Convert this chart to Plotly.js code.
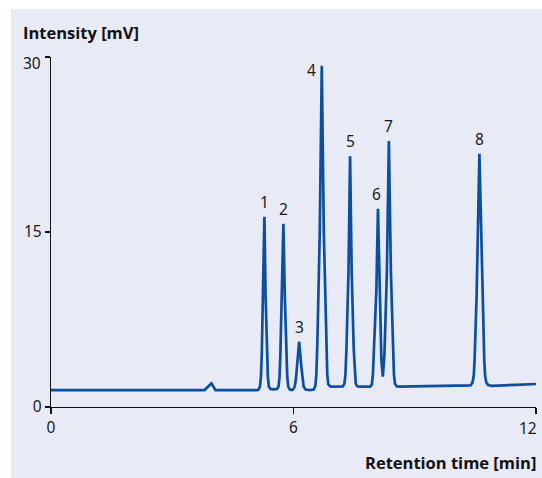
<!DOCTYPE html>
<html>
<head>
<meta charset="utf-8">
<script src="https://cdn.plot.ly/plotly-3.0.1.min.js"></script>
<style>
  html, body { margin: 0; padding: 0; background: #ffffff; width: 542px; height: 478px; overflow: hidden; }
  #chart { position: absolute; left: 11px; top: 9px; width: 531px; height: 469px; }
</style>
</head>
<body>
<div id="chart"></div>
<script>
// Retention time [min] of each read point of the trace
var timeMin = [0, 3.80, 3.97, 4.07, 5.10,
  5.13, 5.17, 5.195, 5.215, 5.25, 5.28, 5.31, 5.345, 5.365, 5.39, 5.43, 5.49,
  5.59, 5.63, 5.655, 5.675, 5.715, 5.75, 5.785, 5.825, 5.845, 5.87, 5.91, 5.96,
  5.99, 6.03, 6.06, 6.09, 6.14, 6.19, 6.22, 6.25, 6.30, 6.40,
  6.50, 6.54, 6.565, 6.59, 6.65, 6.70, 6.75, 6.81, 6.835, 6.86, 6.91, 6.96,
  7.22, 7.26, 7.285, 7.31, 7.36, 7.40, 7.44, 7.49, 7.515, 7.54, 7.58, 7.63,
  7.90, 7.94, 7.965, 7.99, 8.05, 8.09, 8.13, 8.175, 8.21,
  8.25, 8.31, 8.36, 8.41, 8.46, 8.485, 8.51, 8.55, 8.61,
  10.30, 10.38, 10.43, 10.46, 10.48, 10.53, 10.60, 10.67, 10.72, 10.74, 10.77, 10.82, 10.90,
  11.50, 12.0];
// Intensity [mV] at those times
var intensity = [1.45, 1.45, 2.03, 1.45, 1.45,
  1.47, 1.75, 2.6, 4.5, 9.5, 16.3, 9.5, 4.5, 2.6, 1.75, 1.55, 1.52,
  1.55, 1.75, 2.6, 4.5, 9.5, 15.7, 9.5, 4.5, 2.6, 1.75, 1.5, 1.45,
  1.5, 1.75, 2.4, 3.6, 5.6, 3.6, 2.4, 1.75, 1.5, 1.45,
  1.5, 1.8, 2.8, 5.5, 15.0, 29.25, 15.0, 5.5, 2.8, 1.95, 1.76, 1.74,
  1.76, 2.0, 2.8, 5.0, 11.5, 21.5, 11.5, 5.0, 2.8, 2.0, 1.77, 1.74,
  1.75, 1.95, 2.8, 4.8, 10.0, 17.0, 9.5, 4.0, 2.6,
  4.5, 11.5, 22.8, 11.5, 5.0, 2.8, 2.0, 1.78, 1.74,
  1.79, 1.85, 2.1, 2.7, 4.0, 9.5, 21.7, 9.5, 4.0, 2.7, 2.1, 1.88, 1.82,
  1.9, 1.97];

// Peak labels
var peakLabels = ["1", "2", "3", "4", "5", "6", "7", "8"];
var peakTime = [5.28, 5.75, 6.14, 6.70, 7.40, 8.09, 8.36, 10.60];
var peakHeight = [16.3, 15.7, 5.6, 29.25, 21.5, 17.0, 22.8, 21.7];

var xTicks = [0, 6, 12];
var yTicks = [0, 15, 30];

var numFont = { family: "Noto Sans, Open Sans, sans-serif", size: 15.5, color: "#1a1a1a" };
var titleFont = { family: "Open Sans, Noto Sans, sans-serif", size: 16.5, color: "#111111", weight: 700 };

var annotations = peakLabels.map(function (lab, i) {
  var a = {
    x: peakTime[i], y: peakHeight[i], xref: "x", yref: "y",
    text: lab, showarrow: false, font: numFont,
    xanchor: "center", yanchor: "bottom", yshift: 2
  };
  if (lab === "4") { a.xanchor = "right"; a.yanchor = "middle"; a.xshift = -4; a.yshift = -4; }
  if (lab === "6") { a.xshift = -1.5; }
  return a;
});

var xLast = xTicks[xTicks.length - 1];
var yLast = yTicks[yTicks.length - 1];

// last x tick label: right-aligned under its tick
annotations.push({
  x: xLast, xref: "x", y: 0, yref: "paper",
  text: String(xLast), showarrow: false, font: numFont,
  xanchor: "right", yanchor: "top", xshift: 3, yshift: -8
});
// top y tick label: set slightly below its tick
annotations.push({
  x: 0, xref: "paper", y: yLast, yref: "y",
  text: String(yLast), showarrow: false, font: numFont,
  xanchor: "right", yanchor: "middle", xshift: -8, yshift: -6
});

annotations.push({
  xref: "paper", yref: "paper", x: -0.062, y: 1.0, yshift: 25,
  xanchor: "left", yanchor: "middle", showarrow: false,
  text: "<b>Intensity [mV]</b>", font: titleFont
});
annotations.push({
  xref: "paper", yref: "paper", x: 1.0, y: 0, yshift: -55, xshift: 2,
  xanchor: "right", yanchor: "middle", showarrow: false,
  text: "<b>Retention time [min]</b>", font: titleFont
});

var trace = {
  x: timeMin, y: intensity, type: "scatter", mode: "lines",
  line: { color: "#0d4f9f", width: 2.7 },
  hoverinfo: "skip"
};

var layout = {
  width: 531, height: 469,
  margin: { l: 40, r: 6, t: 48, b: 71 },
  paper_bgcolor: "#e8eaf6",
  plot_bgcolor: "#e8eaf6",
  showlegend: false,
  xaxis: {
    range: [0, 12], tickvals: xTicks,
    ticktext: xTicks.map(function (v) { return v === xLast ? "" : String(v); }),
    showgrid: false, zeroline: false, showline: true, linecolor: "#111111", linewidth: 1.2,
    ticks: "outside", ticklen: 6, tickwidth: 1.2, tickcolor: "#111111",
    tickfont: numFont, fixedrange: true
  },
  yaxis: {
    range: [0, 30], tickvals: yTicks,
    ticktext: yTicks.map(function (v) { return v === yLast ? "" : String(v); }),
    showgrid: false, zeroline: false, showline: true, linecolor: "#111111", linewidth: 1.2,
    ticks: "outside", ticklen: 5, tickwidth: 1.2, tickcolor: "#111111",
    tickfont: numFont, fixedrange: true
  },
  annotations: annotations
};

Plotly.newPlot("chart", [trace], layout, { displayModeBar: false, staticPlot: true });
</script>
</body>
</html>
